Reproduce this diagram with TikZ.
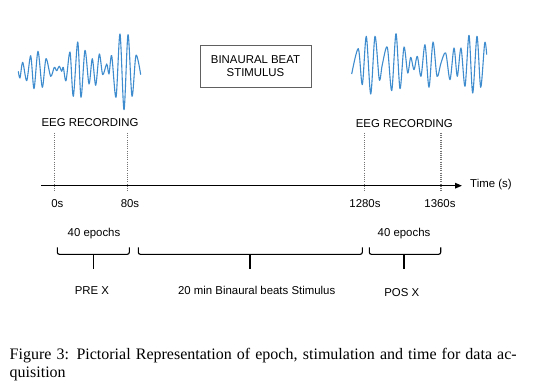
\documentclass[tikz,border=0pt]{standalone}
\usepackage{fontspec}
\setmainfont{Liberation Sans}
\newfontfamily\capfont{Liberation Serif}
\usetikzlibrary{arrows.meta}
\definecolor{eegblue}{RGB}{62,140,206}
\definecolor{boxgray}{RGB}{96,96,96}

\begin{document}
\begin{tikzpicture}[x=1pt, y=-1pt,
            every node/.style={inner sep=0pt, font=\fontsize{11.4}{12.7}\selectfont},
            wave/.style={eegblue, line width=1.1pt, line join=round},
            markline/.style={black!55, line width=1.5pt, dash pattern=on 1.1pt off 1.1pt},
            brace/.style={line width=1.1pt, rounded corners=2pt},
            caption/.style={anchor=base west, font=\fontsize{16}{18}\capfont}, ]
  \useasboundingbox (0,0) rectangle (543,382);
  % eeg traces
  \draw[wave] plot[smooth] coordinates {(18.3,71.3) (20,78) (22.7,62.3) (26.7,80.7) (30.7,55.7) (34,88.7)
    (38,51.3) (42.3,87.3) (46,58.7) (50.7,76.3) (54.3,67.3) (56.7,70.7) (59.3,66.3) (61.7,71.3)
    (63.3,67.3) (66,80.7) (70,52) (73.3,96.3) (77.7,42) (81,97.3) (85,50.3) (89,84) (92.3,58.7)
    (95.7,85.3) (99.3,54) (102.7,74.7) (106.7,64) (109,74) (111.7,55.7) (116,97.3) (120,34)
    (124,109.7) (128,34.7) (132,96.3) (136,55.3) (140.7,74.7)};
  \draw[wave] plot[smooth] coordinates {(351.7,74) (358.3,48.7) (362.3,84.7) (366.3,36.3) (370.7,94)
    (375,36.3) (379.3,79.7) (382.3,64.7) (387.3,47.3) (391.7,90.7) (396,33.7) (400,88.7) (404,47)
    (407.7,73) (410.7,57.3) (414,69.7) (417.3,56.3) (421,76.3) (425,44.7) (429,87.3) (433,42)
    (437,76.3) (441,63) (445.7,53) (450,79.7) (454,48) (457.3,76.3) (461,48) (465,86.3) (469,35.3)
    (472.7,93) (477,36.3) (480.7,87.3) (484.7,43) (486.7,54.7)};
  \node[draw=boxgray, line width=0.8pt, minimum width=111pt, minimum height=42pt, align=center]
    (stim) at (255.5,66) {BINAURAL BEAT\\STIMULUS};
  \node (eegpre) at (90,123) {EEG RECORDING};
  \node (eegpos) at (404.3,123.5) {EEG RECORDING};
  % time axis
  \coordinate (axstart) at (41,185.7);
  \node[anchor=west] (timelbl) at (470,185) {Time (s)};
  \draw[line width=1.4pt, -{Triangle[length=7pt, width=5.5pt]}, shorten >=8pt]
    (axstart) -- (axstart -| timelbl.west);
  \foreach \nm/\xx in {m0/54.3, m80/127.3, m1280/364.3, m1360/441}{
    \coordinate (\nm top) at (\xx,133);
    \coordinate (\nm bot) at (\xx,192);
    \draw[markline] (\nm top) -- (\nm bot);
  }
  \node (t0) at (57.3,204) {0s};
  \node (t80) at (130,204) {80s};
  \node (t1280) at (365,203.3) {1280s};
  \node (t1360) at (440,203.3) {1360s};
  % epochs
  \node (epre) at (94,234) {40 epochs};
  \node (epos) at (404,233.3) {40 epochs};
  \foreach \l/\m/\r in {57.3/93.3/129.3, 138.3/250/362.3, 369.3/404/440.7}{
    \draw[brace] (\l,247.3) |- (\r,254.3) -- (\r,247.3);
    \draw[brace] (\m,254.3) -- (\m,269.3);
  }
  \node (pre) at (92,291) {PRE X};
  \node (stimspan) at (256.7,290) {20 min Binaural beats Stimulus};
  \node (pos) at (401.7,293) {POS X};
  % caption
  \node[caption] (cap1) at (9.5,359.5)
    {\makebox[507pt][s]{Figure 3: Pictorial Representation of epoch, stimulation and time for data ac-}};
  \node[caption] (cap2) at (9.5,377.5) {quisition};
\end{tikzpicture}
\end{document}
